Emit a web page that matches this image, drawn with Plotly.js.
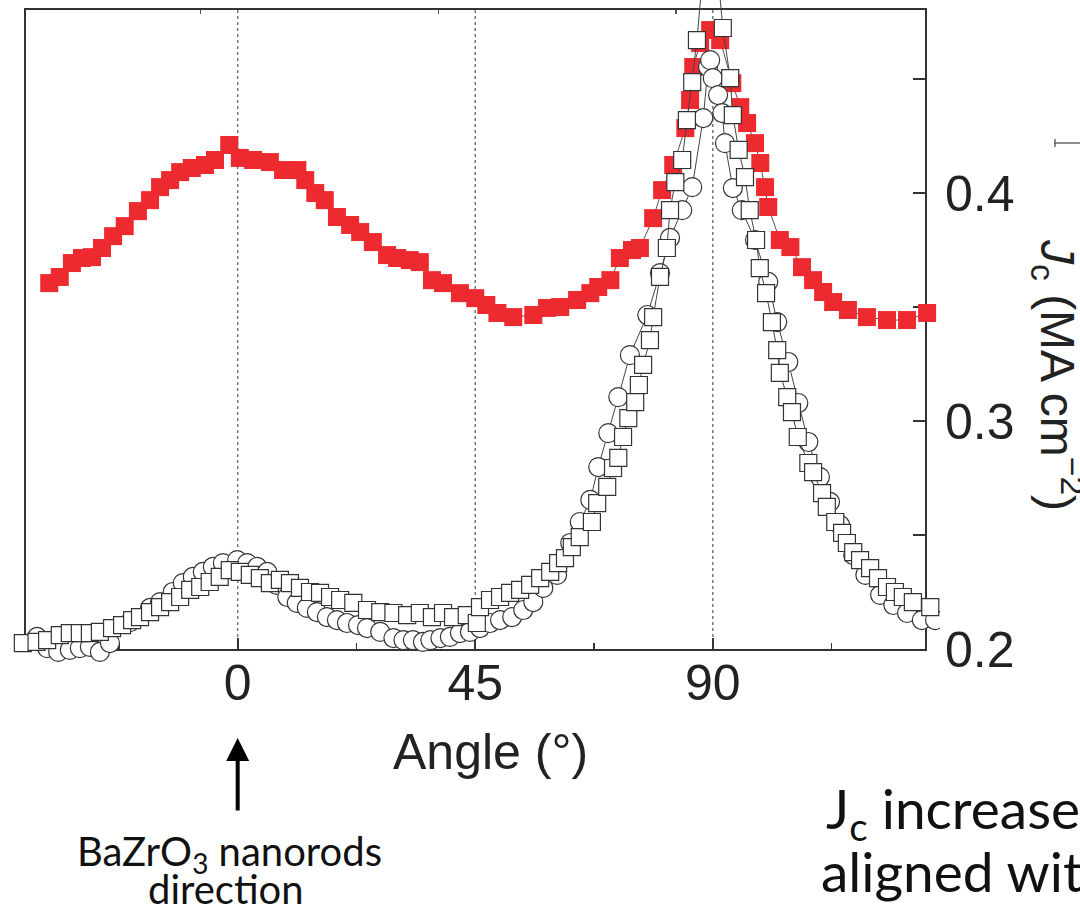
<!DOCTYPE html>
<html>
<head>
<meta charset="utf-8">
<script src="https://cdn.plot.ly/plotly-3.0.1.min.js"></script>
<style>html,body{margin:0;padding:0;background:#fff;}#chart{width:1080px;height:905px;}</style>
</head>
<body>
<div id="chart"></div>
<script>
// ---- data (angle in degrees, Jc in MA cm^-2) ----
const angleRed = [-35.7,-33.7,-31.4,-29.5,-27.6,-25.7,-23.6,-21.4,-18.9,-16.6,-14.7,-12.8,-10.9,-8.7,-6.2,-4.3,-1.6,0.4,2.9,6.1,8.6,11.3,12.8,14.7,16.5,18.8,21.3,23.2,25.6,28.3,30.2,32.6,34.5,36.8,38.9,42.1,45.0,47.1,49.2,52.2,56.0,58.6,61.1,64.3,66.8,68.3,70.6,72.4,74.7,76.2,78.7,80.4,82.5,84.8,85.7,86.3,87.6,89.5,91.4,93.7,95.2,96.5,98.0,99.0,99.9,100.5,102.7,104.7,106.9,109.0,110.9,112.8,115.6,119.2,123.0,126.8,130.6];
const jcRed = [0.3605,0.3632,0.3693,0.3715,0.3719,0.3759,0.3811,0.3855,0.3921,0.3969,0.4026,0.4057,0.4092,0.4110,0.4123,0.4145,0.4211,0.4154,0.4145,0.4136,0.4101,0.4101,0.4057,0.4000,0.3969,0.3895,0.3860,0.3829,0.3785,0.3728,0.3715,0.3706,0.3697,0.3618,0.3605,0.3561,0.3539,0.3509,0.3474,0.3456,0.3465,0.3496,0.3500,0.3531,0.3561,0.3588,0.3618,0.3715,0.3750,0.3759,0.3890,0.4013,0.4123,0.4285,0.4408,0.4553,0.4658,0.4715,0.4671,0.4482,0.4377,0.4307,0.4219,0.4132,0.4026,0.3939,0.3794,0.3763,0.3675,0.3618,0.3566,0.3522,0.3487,0.3456,0.3443,0.3443,0.3474];

const angleCircle = [-38.0,-36.1,-34.0,-31.8,-29.9,-28.0,-26.1,-24.2,-20.4,-16.6,-14.7,-12.3,-10.4,-8.5,-6.6,-4.7,-2.8,-0.1,1.8,3.7,5.6,7.4,9.4,11.2,13.1,15.0,16.9,18.8,20.7,22.8,24.5,27.0,29.5,31.4,33.2,35.1,36.5,38.4,40.2,42.1,44.0,45.9,47.8,49.7,52.0,54.1,56.0,57.9,60.5,63.0,64.8,66.8,68.3,70.2,72.1,74.3,77.6,80.0,81.9,84.2,86.1,88.2,89.1,89.5,90.0,91.0,91.8,92.3,93.8,95.5,98.0,100.5,102.2,104.3,106.2,108.1,110.3,112.2,114.1,116.6,118.9,121.7,124.2,126.8,129.6,132.1];
const jcCircle = [0.2053,0.2004,0.1987,0.1996,0.2004,0.2009,0.1987,0.2026,0.2118,0.2180,0.2206,0.2250,0.2289,0.2316,0.2338,0.2360,0.2377,0.2390,0.2377,0.2360,0.2338,0.2281,0.2228,0.2202,0.2180,0.2162,0.2140,0.2127,0.2114,0.2105,0.2092,0.2075,0.2048,0.2039,0.2039,0.2031,0.2039,0.2048,0.2053,0.2070,0.2075,0.2092,0.2114,0.2127,0.2140,0.2171,0.2206,0.2268,0.2325,0.2465,0.2557,0.2654,0.2798,0.2947,0.3105,0.3289,0.3465,0.3649,0.3803,0.3925,0.4026,0.4329,0.4553,0.4583,0.4504,0.4430,0.4351,0.4219,0.4022,0.3925,0.3794,0.3610,0.3434,0.3259,0.3079,0.2908,0.2754,0.2645,0.2544,0.2412,0.2325,0.2237,0.2193,0.2158,0.2127,0.2127];

const angleSquare = [-40.7,-38.1,-36.1,-33.7,-31.8,-29.9,-28.0,-26.1,-23.8,-21.9,-20.0,-18.5,-16.6,-14.7,-12.8,-10.9,-9.0,-7.1,-5.3,-3.4,-1.5,0.4,2.3,4.2,6.1,8.0,9.9,11.8,13.7,15.6,17.5,19.4,21.9,24.5,27.0,29.5,32.1,34.5,36.8,38.9,40.8,43.4,45.3,45.9,47.8,49.7,51.6,53.5,55.4,57.3,59.2,60.7,62.0,63.3,64.8,67.1,68.1,70.0,71.1,72.1,73.0,74.0,75.3,76.0,76.8,78.1,78.7,80.0,81.3,81.9,82.9,84.2,85.1,86.1,87.0,89.5,91.9,93.3,93.8,94.9,96.1,97.0,98.2,98.9,100.1,101.2,102.2,102.7,104.1,105.0,106.1,108.1,109.0,110.7,111.6,113.2,114.5,115.4,116.6,117.9,119.8,121.3,123.0,124.5,126.0,127.9,131.2];
const jcSquare = [0.2026,0.2031,0.2039,0.2061,0.2070,0.2070,0.2070,0.2075,0.2092,0.2105,0.2127,0.2140,0.2162,0.2184,0.2206,0.2228,0.2259,0.2272,0.2294,0.2316,0.2346,0.2338,0.2325,0.2311,0.2289,0.2303,0.2289,0.2268,0.2250,0.2246,0.2228,0.2215,0.2202,0.2171,0.2162,0.2158,0.2149,0.2158,0.2140,0.2158,0.2140,0.2149,0.2114,0.2184,0.2215,0.2228,0.2246,0.2259,0.2281,0.2311,0.2338,0.2377,0.2399,0.2447,0.2491,0.2557,0.2640,0.2711,0.2794,0.2838,0.2930,0.3013,0.3083,0.3158,0.3246,0.3355,0.3456,0.3632,0.3759,0.3925,0.4048,0.4145,0.4320,0.4487,0.4671,0.5330,0.4724,0.4504,0.4342,0.4189,0.4070,0.3925,0.3794,0.3671,0.3561,0.3434,0.3311,0.3211,0.3105,0.3039,0.2930,0.2816,0.2776,0.2684,0.2623,0.2557,0.2509,0.2465,0.2425,0.2390,0.2355,0.2311,0.2272,0.2250,0.2228,0.2206,0.2184];

const xTickVals = [0, 45, 90];
const xTickText = ['0', '45', '90'];
const yTickVals = [0.2, 0.3, 0.4];
const yTickText = ['0.2', '0.3', '0.4'];
const topTickVals = [-7, 38, 83];
const guideAngles = [0, 45, 90];
const nanorodAngle = 0;

// frame geometry (axis ranges of the framed panel)
const xRange = [-40.1, 130.2];
const yRange = [0.2, 0.4803];
// data canvas slightly larger than the frame so edge markers overlap the frame
const PLOT_L = 10, PLOT_R = 940, PLOT_T = 0, PLOT_B = 665;
const FRAME_L = 26, FRAME_R = 925, FRAME_T = 10, FRAME_B = 649;
const pxPerDeg = (FRAME_R - FRAME_L) / (xRange[1] - xRange[0]);
const pxPerJc = (FRAME_B - FRAME_T) / (yRange[1] - yRange[0]);
const W = PLOT_R - PLOT_L, H = PLOT_B - PLOT_T;
const xDomain = [(FRAME_L - PLOT_L) / W, (FRAME_R - PLOT_L) / W];
const yDomain = [(PLOT_B - FRAME_B) / H, (PLOT_B - FRAME_T) / H];
const x3Range = [xRange[0] - (FRAME_L - PLOT_L) / pxPerDeg, xRange[1] + (PLOT_R - FRAME_R) / pxPerDeg];
const y3Range = [yRange[0] - (PLOT_B - FRAME_B) / pxPerJc, yRange[1] + (FRAME_T - PLOT_T) / pxPerJc];
const px = X => (X - PLOT_L) / W;
const py = Y => (PLOT_B - Y) / H;

const narrow = '"Liberation Sans Narrow", "Arial Narrow", "Liberation Sans", Arial, sans-serif';
const humanist = 'Lato, "Noto Sans", "Open Sans", sans-serif';

const traces = [
  {x: [], y: [], xaxis: 'x', yaxis: 'y', type: 'scatter', mode: 'markers', showlegend: false},
  {x: [], y: [], xaxis: 'x2', yaxis: 'y', type: 'scatter', mode: 'markers', showlegend: false},
  {
    x: angleRed, y: jcRed, xaxis: 'x3', yaxis: 'y3', type: 'scatter', mode: 'lines+markers',
    line: {color: '#555', width: 1},
    marker: {symbol: 'square', size: 18, color: '#ED2A2F', line: {width: 0}},
    hoverinfo: 'x+y', showlegend: false
  },
  {
    x: angleCircle, y: jcCircle, xaxis: 'x3', yaxis: 'y3', type: 'scatter', mode: 'lines+markers',
    line: {color: '#444', width: 1},
    marker: {symbol: 'circle', size: 19, color: '#fff', line: {width: 1.2, color: '#333'}},
    hoverinfo: 'x+y', showlegend: false
  },
  {
    x: angleSquare, y: jcSquare, xaxis: 'x3', yaxis: 'y3', type: 'scatter', mode: 'lines+markers',
    line: {color: '#444', width: 1},
    marker: {symbol: 'square', size: 17, color: '#fff', line: {width: 1.2, color: '#333'}},
    hoverinfo: 'x+y', showlegend: false
  }
];

const shapes = guideAngles.map(a => ({
  type: 'line', xref: 'x', yref: 'y domain', x0: a, x1: a, y0: 0, y1: 1,
  line: {color: '#777', width: 1.5, dash: 'dot'}, layer: 'below'
}));
// fragment of the neighbouring panel's axis at the right edge
shapes.push({type: 'line', xref: 'paper', yref: 'paper', x0: px(1054), x1: px(1080), y0: py(143), y1: py(143),
  line: {color: '#666', width: 1.5}});
shapes.push({type: 'line', xref: 'paper', yref: 'paper', x0: px(1055), x1: px(1055), y0: py(139), y1: py(147),
  line: {color: '#666', width: 1.5}});

const tickFont = {family: narrow, size: 50, color: '#222'};

const layout = {
  width: 1080, height: 905,
  margin: {l: PLOT_L, r: 1080 - PLOT_R, t: PLOT_T, b: 905 - PLOT_B, pad: 0},
  paper_bgcolor: '#fff', plot_bgcolor: 'rgba(0,0,0,0)',
  showlegend: false,
  xaxis: {
    domain: xDomain, anchor: 'y', range: xRange, tickmode: 'array', tickvals: xTickVals, ticktext: xTickText,
    ticks: 'inside', ticklen: 11, tickwidth: 2, tickcolor: '#333',
    minor: {tickmode: 'linear', tick0: 22.5, dtick: 45, ticks: 'inside', ticklen: 6, tickwidth: 1.5, tickcolor: '#333'},
    showline: true, mirror: true, linecolor: '#333', linewidth: 2,
    showgrid: false, zeroline: false,
    tickfont: tickFont,
    ticklabelstandoff: -11
  },
  xaxis2: {
    overlaying: 'x', side: 'top', anchor: 'y', range: xRange,
    tickmode: 'array', tickvals: topTickVals, ticks: 'inside', ticklen: 4, tickwidth: 1.5, tickcolor: '#555',
    showticklabels: false, showline: false, showgrid: false, zeroline: false
  },
  yaxis: {
    domain: yDomain, anchor: 'x', side: 'right', range: yRange, tickmode: 'array', tickvals: yTickVals, ticktext: yTickText,
    ticks: 'inside', ticklen: 12, tickwidth: 2, tickcolor: '#333',
    minor: {tickmode: 'linear', tick0: 0.25, dtick: 0.1, ticks: 'inside', ticklen: 12, tickwidth: 2, tickcolor: '#333'},
    showline: true, mirror: true, linecolor: '#333', linewidth: 2,
    showgrid: false, zeroline: false,
    tickfont: tickFont,
    ticklabelstandoff: 8
  },
  xaxis3: {domain: [0, 1], anchor: 'y3', range: x3Range, visible: false, showgrid: false, zeroline: false},
  yaxis3: {domain: [0, 1], anchor: 'x3', range: y3Range, visible: false, showgrid: false, zeroline: false},
  shapes: shapes,
  annotations: [
    {
      text: 'Angle (°)', xref: 'paper', yref: 'paper', x: px(490), y: py(752),
      xanchor: 'center', yanchor: 'middle', showarrow: false,
      font: {family: narrow, size: 50, color: '#222'}
    },
    {
      text: '<i>J</i><sub>c</sub> (MA cm<sup>−2</sup>)', textangle: 90,
      xref: 'paper', yref: 'paper', x: px(1058), y: py(375), xanchor: 'center', yanchor: 'middle',
      showarrow: false, font: {family: narrow, size: 48, color: '#222'}
    },
    {
      text: '', xref: 'x', yref: 'paper', x: nanorodAngle, y: py(738),
      axref: 'pixel', ayref: 'pixel', ax: 0, ay: 74,
      showarrow: true, arrowhead: 2, arrowsize: 1.15, arrowwidth: 4, arrowcolor: '#000'
    },
    {
      text: 'BaZrO<sub>3</sub> nanorods', xref: 'paper', yref: 'paper', x: px(229), y: py(853),
      xanchor: 'center', yanchor: 'middle', showarrow: false,
      font: {family: humanist, size: 40, color: '#111'}
    },
    {
      text: 'direction', xref: 'paper', yref: 'paper', x: px(226), y: py(889),
      xanchor: 'center', yanchor: 'middle', showarrow: false,
      font: {family: humanist, size: 40, color: '#111'}
    },
    {
      text: 'J<sub>c</sub> increases', xref: 'paper', yref: 'paper', x: px(824), y: py(812),
      xanchor: 'left', yanchor: 'middle', showarrow: false,
      font: {family: humanist, size: 55, color: '#111'}
    },
    {
      text: 'aligned with', xref: 'paper', yref: 'paper', x: px(819), y: py(871),
      xanchor: 'left', yanchor: 'middle', showarrow: false,
      font: {family: humanist, size: 55, color: '#111'}
    }
  ]
};

Plotly.newPlot('chart', traces, layout, {staticPlot: true, displayModeBar: false});
</script>
</body>
</html>
